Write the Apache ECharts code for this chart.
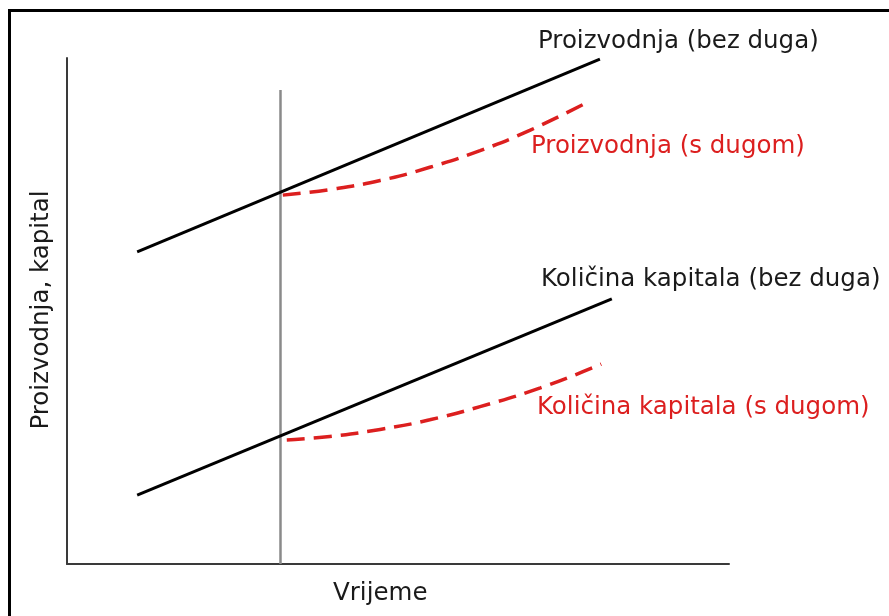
<!DOCTYPE html>
<html><head><meta charset="utf-8">
<script src="https://cdn.jsdelivr.net/npm/echarts@6/dist/echarts.min.js"></script>
<style>html,body{margin:0;padding:0;background:#fff}#c{width:889px;height:616px}</style>
</head><body><div id="c"></div>
<script>
// Data (arbitrary units: time 0..100, value 0..100)
const outputNoDebtX = [10.6, 80.5];
const outputNoDebtY = [61.7, 99.8];
const capitalNoDebtX = [10.6, 82.3];
const capitalNoDebtY = [13.6, 52.4];
const outputDebtX = [32.6, 39.7, 47.3, 54.8, 62.4, 69.9, 79.0];
const outputDebtY = [72.9, 74.0, 75.8, 78.4, 81.7, 85.7, 91.5];
const capitalDebtX = [33.2, 39.7, 47.3, 54.8, 62.4, 71.5, 80.7];
const capitalDebtY = [24.5, 25.2, 26.6, 28.5, 31.1, 34.8, 39.5];
const debtStartX = [32.25, 32.25];
const debtStartY = [0, 93.7];
const labels = {
  outputNoDebt: 'Proizvodnja (bez duga)',
  outputDebt: 'Proizvodnja (s dugom)',
  capitalNoDebt: 'Količina kapitala (bez duga)',
  capitalDebt: 'Količina kapitala (s dugom)',
  xName: 'Vrijeme',
  yName: 'Proizvodnja, kapital'
};

const zip = (xs, ys) => xs.map((x, i) => [x, ys[i]]);
const FONT = '"DejaVu Sans", "Open Sans", sans-serif';
const FS = '24.5px ';
const RED = '#dc1f1f';
const txt = (text, x, y, fill) => ({type: 'text', x: x, y: y,
  style: {text: text, fill: fill, font: FS + FONT, align: 'left', verticalAlign: 'middle'}});

const chart = echarts.init(document.getElementById('c'), null, {renderer: 'canvas'});
chart.setOption({
  animation: false,
  backgroundColor: '#fff',
  grid: {left: 67, top: 58, right: 160, bottom: 52, containLabel: false},
  xAxis: {type: 'value', min: 0, max: 100,
    axisLine: {show: true, lineStyle: {color: '#3a3a3a', width: 2}},
    axisTick: {show: false}, axisLabel: {show: false}, splitLine: {show: false}},
  yAxis: {type: 'value', min: 0, max: 100,
    axisLine: {show: true, lineStyle: {color: '#3a3a3a', width: 2}},
    axisTick: {show: false}, axisLabel: {show: false}, splitLine: {show: false}},
  series: [
    {type: 'line', data: zip(debtStartX, debtStartY), symbol: 'none',
      lineStyle: {color: '#8a8a8a', width: 2.5}, z: 1},
    {type: 'line', data: zip(outputNoDebtX, outputNoDebtY), symbol: 'none',
      lineStyle: {color: '#000', width: 3}, z: 3},
    {type: 'line', data: zip(capitalNoDebtX, capitalNoDebtY), symbol: 'none',
      lineStyle: {color: '#000', width: 3}, z: 3},
    {type: 'line', data: zip(outputDebtX, outputDebtY), symbol: 'none', smooth: true,
      lineStyle: {color: RED, width: 3.5, type: [18, 9]}, z: 2},
    {type: 'line', data: zip(capitalDebtX, capitalDebtY), symbol: 'none', smooth: true,
      lineStyle: {color: RED, width: 3.5, type: [18, 9]}, z: 2}
  ],
  graphic: [
    {type: 'rect', shape: {x: 9.5, y: 10.5, width: 1000, height: 1000},
      style: {fill: 'none', stroke: '#000', lineWidth: 3}, z: 10},
    txt(labels.outputNoDebt, 538, 42, '#1a1a1a'),
    txt(labels.outputDebt, 531, 147, RED),
    txt(labels.capitalNoDebt, 541, 280, '#1a1a1a'),
    txt(labels.capitalDebt, 537, 408, RED),
    txt(labels.xName, 333, 594, '#1a1a1a'),
    {type: 'text', x: 42, y: 310, rotation: Math.PI / 2,
      style: {text: labels.yName, fill: '#1a1a1a', font: FS + FONT, align: 'center', verticalAlign: 'middle'}}
  ]
});
</script></body></html>
